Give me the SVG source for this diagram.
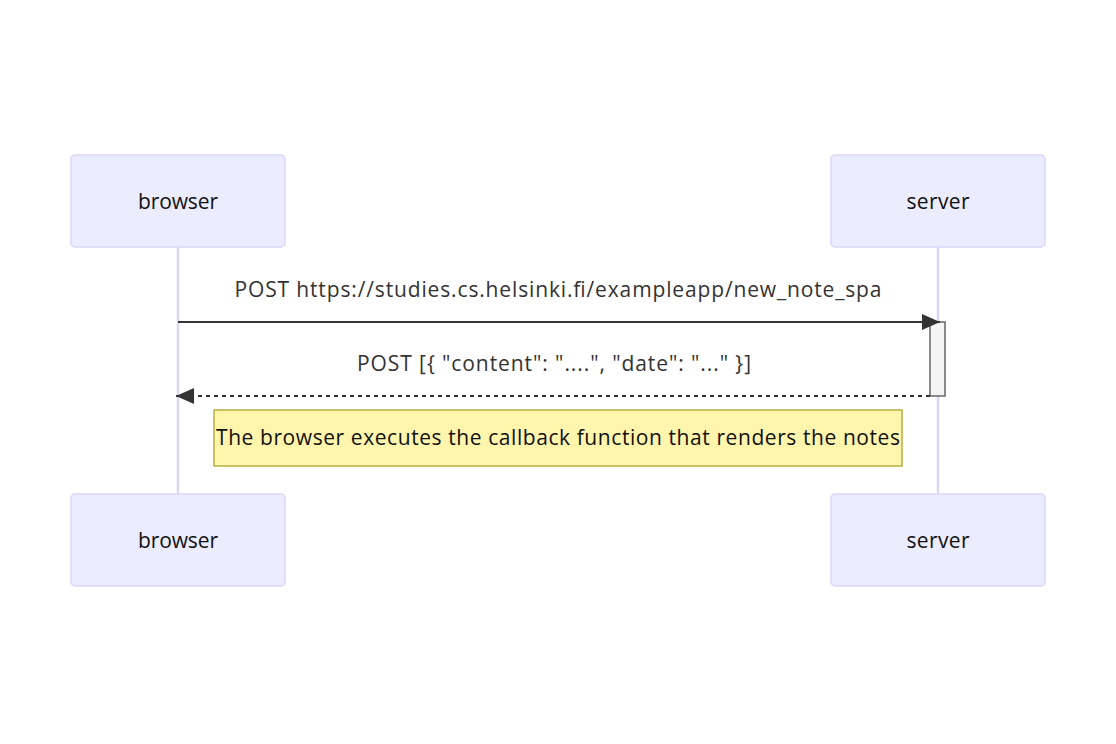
<svg xmlns="http://www.w3.org/2000/svg" width="1116" height="744" viewBox="0 0 1116 744">
<style>
.actor{fill:#ececff;stroke:#ddd6f7;stroke-width:1.5}
.atext{font-family:"Open Sans","DejaVu Sans",sans-serif;font-size:21px;fill:#111;text-anchor:middle}
.life{stroke:#ddd6f7;stroke-width:2.5}
.mtext{font-family:"Open Sans","DejaVu Sans",sans-serif;font-size:21px;fill:#333;text-anchor:middle}
.msg{stroke:#333;stroke-width:2;fill:none}
.note{fill:#fff5ad;stroke:#b5b040;stroke-width:1.5}
.ntext{font-family:"Open Sans","DejaVu Sans",sans-serif;font-size:21px;fill:#111;text-anchor:middle}
.act{fill:#f4f4f4;stroke:#666;stroke-width:1.5}
</style>
<defs>
<marker id="ah" viewBox="0 0 12 12" refX="12" refY="6" markerWidth="12" markerHeight="12" markerUnits="userSpaceOnUse" orient="auto">
<path d="M0,0 L12,6 L0,12 z" fill="#333"/>
</marker>
<marker id="ah2" viewBox="0 0 18 16" refX="18" refY="8" markerWidth="18" markerHeight="16" markerUnits="userSpaceOnUse" orient="auto">
<path d="M0,0 L18,8 L0,16 z" fill="#333"/>
</marker>
</defs>
<rect width="1116" height="744" fill="#ffffff"/>
<g id="lifelines">
<line class="life" x1="178" y1="247" x2="178" y2="494"/>
<line class="life" x1="938" y1="247" x2="938" y2="494"/>
</g>
<g id="browser-top">
<rect class="actor" x="71" y="155" width="214" height="92" rx="4"/>
<text class="atext" x="178" y="209" textLength="80">browser</text>
</g>
<g id="server-top">
<rect class="actor" x="831" y="155" width="214" height="92" rx="4"/>
<text class="atext" x="938" y="209" textLength="63">server</text>
</g>
<g id="browser-bottom">
<rect class="actor" x="71" y="494" width="214" height="92" rx="4"/>
<text class="atext" x="178" y="548" textLength="80">browser</text>
</g>
<g id="server-bottom">
<rect class="actor" x="831" y="494" width="214" height="92" rx="4"/>
<text class="atext" x="938" y="548" textLength="63">server</text>
</g>
<g id="activation">
<rect class="act" x="930" y="322" width="15" height="74"/>
</g>
<g id="connectors">
<line class="msg" x1="178" y1="322" x2="940" y2="322" marker-end="url(#ah2)"/>
<text class="mtext" x="558" y="297" textLength="647">POST https://studies.cs.helsinki.fi/exampleapp/new_note_spa</text>
<line class="msg" x1="930" y1="396" x2="176" y2="396" stroke-dasharray="4,4" marker-end="url(#ah2)"/>
<text class="mtext" x="554" y="371" textLength="394">POST [{ "content": "....", "date": "..." }]</text>
</g>
<g id="note">
<rect class="note" x="214" y="410" width="688" height="56"/>
<text class="ntext" x="558" y="445" textLength="684">The browser executes the callback function that renders the notes</text>
</g>
</svg>
